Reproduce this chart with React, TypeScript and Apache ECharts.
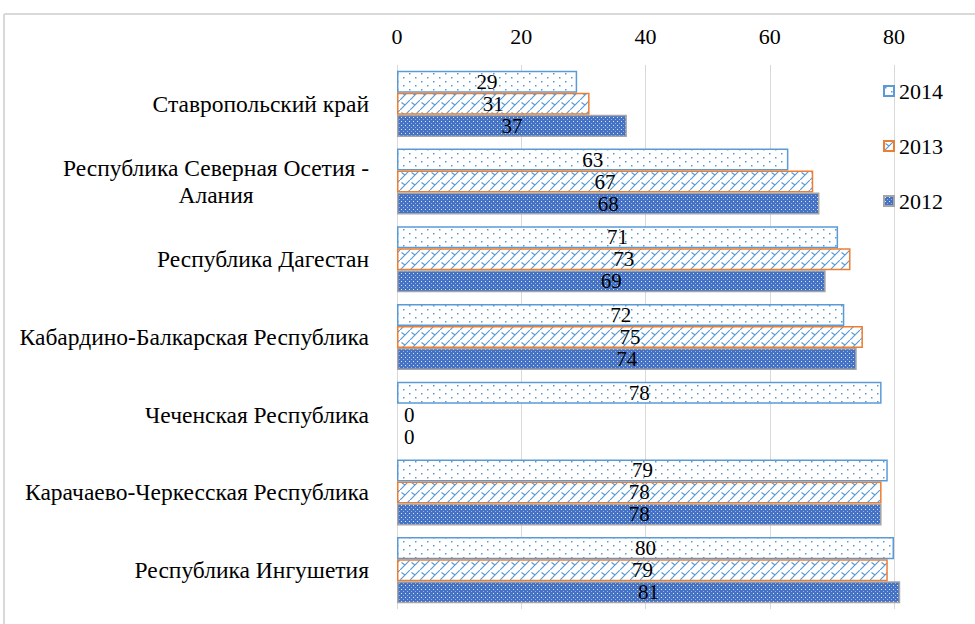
import React, { useEffect, useRef } from "react";
import * as echarts from "echarts";

const categories = [
  "Ставропольский край",
  "Республика Северная Осетия - Алания",
  "Республика Дагестан",
  "Кабардино-Балкарская Республика",
  "Чеченская Республика",
  "Карачаево-Черкесская Республика",
  "Республика Ингушетия",
];
const seriesNames = ["2014", "2013", "2012"];
const values2014 = [29, 63, 71, 72, 78, 79, 80];
const values2013 = [31, 67, 73, 75, 0, 78, 79];
const values2012 = [37, 68, 69, 74, 0, 78, 81];
const xMin = 0;
const xMax = 80;
const xInterval = 20;

const FONT = "Liberation Serif";
const FS = 22;
const FS_BAR = 21;
const FS_CAT = 23.5;

function makePattern(w: number, h: number, draw: (ctx: CanvasRenderingContext2D) => void) {
  const c = document.createElement("canvas");
  c.width = w;
  c.height = h;
  const ctx = c.getContext("2d") as CanvasRenderingContext2D;
  draw(ctx);
  return { image: c.toDataURL(), imageWidth: w, imageHeight: h, repeat: "repeat" };
}

export default function App() {
  const ref = useRef<HTMLDivElement>(null);
  useEffect(() => {
    if (!ref.current) return;
    const chart = echarts.init(ref.current, null, { renderer: "svg" });

    const p2014 = makePattern(12, 8, (ctx) => {
      ctx.fillStyle = "#ffffff";
      ctx.fillRect(0, 0, 12, 8);
      ctx.fillStyle = "#5B9BD5";
      ctx.fillRect(1, 1, 1.5, 1.5);
      ctx.fillRect(7, 5, 1.5, 1.5);
    });
    const p2013 = makePattern(10, 10, (ctx) => {
      ctx.fillStyle = "#ffffff";
      ctx.fillRect(0, 0, 10, 10);
      ctx.strokeStyle = "#5B9BD5";
      ctx.lineWidth = 1.2;
      ctx.beginPath();
      ctx.moveTo(0, 10);
      ctx.lineTo(10, 0);
      ctx.moveTo(1.5, 2.5);
      ctx.lineTo(5, 5);
      ctx.moveTo(11.5, 2.5);
      ctx.lineTo(15, 5);
      ctx.stroke();
    });
    const p2012 = makePattern(4, 4, (ctx) => {
      ctx.fillStyle = "#4472C4";
      ctx.fillRect(0, 0, 4, 4);
      ctx.fillStyle = "rgba(255,255,255,0.85)";
      ctx.fillRect(1, 1, 1, 1);
      ctx.fillStyle = "rgba(255,255,255,0.45)";
      ctx.fillRect(3, 3, 1, 1);
    });

    const mc = document.createElement("canvas").getContext("2d") as CanvasRenderingContext2D;
    mc.font = `${FS_CAT}px "${FONT}"`;
    const line1 = "Республика Северная Осетия -";
    const line1W = Math.ceil(mc.measureText(line1).width);

    const mk = (name: string, vals: number[], pattern: any, border: string) => ({
      name,
      type: "bar",
      clip: false,
      barGap: "0%",
      barCategoryGap: "15%",
      itemStyle: { color: pattern, borderColor: border, borderWidth: 1.5 },
      label: {
        show: true,
        position: "inside",
        color: "#000",
        fontFamily: FONT,
        fontSize: FS_BAR,
        lineHeight: 18,
        textBorderWidth: 0,
      },
      data: vals.map((v) =>
        v === 0
          ? {
              value: v,
              itemStyle: { borderWidth: 0 },
              label: { show: true, position: "right", distance: 7 },
            }
          : v
      ),
    });

    chart.setOption({
      animation: false,
      textStyle: { fontFamily: FONT },
      grid: { left: 397, right: 81, top: 65, bottom: 15, containLabel: false },
      legend: {
        data: seriesNames,
        orient: "vertical",
        left: 878,
        top: 75,
        icon: "rect",
        itemWidth: 10,
        itemHeight: 10,
        itemGap: 33,
        textStyle: { fontFamily: FONT, fontSize: FS, color: "#000" },
      },
      xAxis: {
        type: "value",
        position: "top",
        min: xMin,
        max: xMax,
        interval: xInterval,
        axisLine: { show: false },
        axisTick: { show: false },
        axisLabel: { color: "#000", fontFamily: FONT, fontSize: FS, margin: 18 },
        splitLine: { show: true, lineStyle: { color: "#D9D9D9", width: 1 } },
      },
      yAxis: {
        type: "category",
        inverse: true,
        data: categories,
        axisLine: { show: false },
        axisTick: { show: false },
        axisLabel: {
          color: "#000",
          fontFamily: FONT,
          fontSize: FS_CAT,
          margin: 28,
          formatter: (v: string) =>
            v === "Республика Северная Осетия - Алания"
              ? `{c|${line1}}\n{c|Алания}`
              : v,
          rich: {
            c: {
              width: line1W,
              align: "center",
              color: "#000",
              fontFamily: FONT,
              fontSize: FS_CAT,
              lineHeight: 27,
            },
          },
        },
      },
      graphic: [
        {
          type: "line",
          shape: { x1: 4, y1: 14, x2: 975, y2: 14 },
          style: { stroke: "#D9D9D9", lineWidth: 2 },
        },
        {
          type: "line",
          shape: { x1: 4, y1: 14, x2: 4, y2: 624 },
          style: { stroke: "#D9D9D9", lineWidth: 2 },
        },
      ],
      series: [
        mk(seriesNames[0], values2014, p2014, "#5B9BD5"),
        mk(seriesNames[1], values2013, p2013, "#ED7D31"),
        mk(seriesNames[2], values2012, p2012, "#A5A5A5"),
      ],
    });
    return () => chart.dispose();
  }, []);
  return (
    <div
      ref={ref}
      style={{ position: "fixed", left: 0, top: 0, width: 975, height: 624, background: "#fff" }}
    />
  );
}
